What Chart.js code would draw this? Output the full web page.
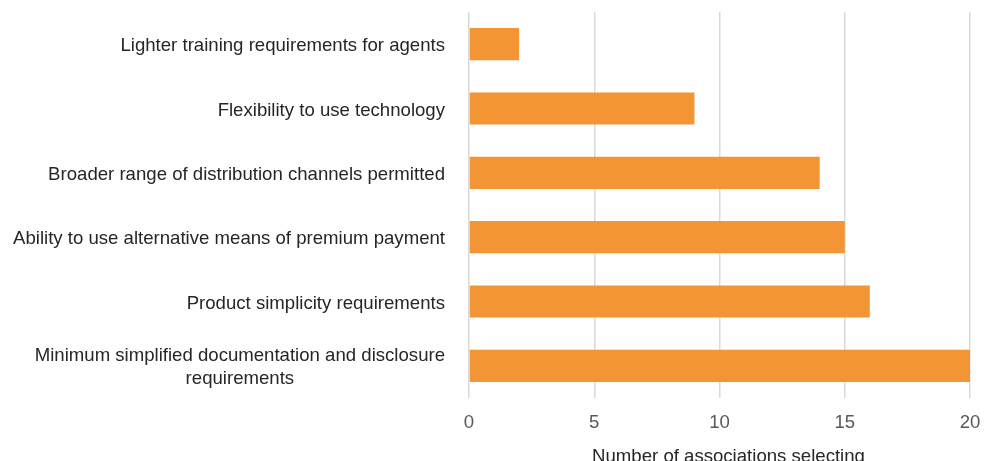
<!DOCTYPE html>
<html>
<head>
<meta charset="utf-8">
<script src="https://cdn.jsdelivr.net/npm/chart.js@4"></script>
<style>
  html, body { margin: 0; padding: 0; background: #ffffff; }
  #wrap { width: 996px; height: 461px; position: relative; }
</style>
</head>
<body>
<div id="wrap"><canvas id="chart"></canvas></div>
<script>
const categories = [
  "Lighter training requirements for agents",
  "Flexibility to use technology",
  "Broader range of distribution channels permitted",
  "Ability to use alternative means of premium payment",
  "Product simplicity requirements",
  ["Minimum simplified documentation and disclosure", "requirements"],
];
const associationCounts = [2, 9, 14, 15, 16, 20];
const axisTitle = "Number of associations selecting";

const FONT = "Liberation Sans, Arial, sans-serif";
const FONT_SIZE = 18.6;

const labelPlugin = {
  id: "categoryLabels",
  afterDraw(chart) {
    const ctx = chart.ctx;
    const yScale = chart.scales.y;
    const xScale = chart.scales.x;
    ctx.save();
    ctx.font = `${FONT_SIZE}px ${FONT}`;
    ctx.fillStyle = "#262626";
    ctx.textBaseline = "middle";
    ctx.textAlign = "center";
    const right = chart.chartArea.left - 24;
    const lineHeight = 23;

    categories.forEach((label, index) => {
      const lines = Array.isArray(label) ? label : [label];
      const blockWidth = Math.max(...lines.map((line) => ctx.measureText(line).width));
      const cx = right - blockWidth / 2;
      const cy = yScale.getPixelForTick(index) + 2;
      const top = cy - ((lines.length - 1) * lineHeight) / 2;
      lines.forEach((line, i) => ctx.fillText(line, cx, top + i * lineHeight));
    });

    ctx.textBaseline = "alphabetic";
    ctx.fillText(axisTitle, (xScale.left + xScale.right) / 2 + 9, chart.height + 0.5);
    ctx.restore();
  },
};

new Chart(document.getElementById("chart"), {
  type: "bar",
  data: {
    labels: categories,
    datasets: [
      {
        label: axisTitle,
        data: associationCounts,
        backgroundColor: "#F39435",
        borderWidth: 0,
        barPercentage: 0.5,
        categoryPercentage: 1,
      },
    ],
  },
  options: {
    indexAxis: "y",
    responsive: true,
    maintainAspectRatio: false,
    animation: false,
    layout: { padding: { top: 12, right: 26, left: 0, bottom: 0 } },
    plugins: {
      legend: { display: false },
      tooltip: { enabled: false },
    },
    scales: {
      x: {
        min: 0,
        max: 20,
        ticks: {
          stepSize: 5,
          padding: 14,
          color: "#595959",
          font: { family: FONT, size: FONT_SIZE },
        },
        grid: { color: "#d9d9d9", lineWidth: 1.5, drawTicks: false },
        border: { display: false },
        afterFit(scale) {
          scale.height = 63;
        },
      },
      y: {
        ticks: { display: false },
        grid: { display: false },
        border: { display: false },
        afterFit(scale) {
          scale.width = 469;
        },
      },
    },
  },
  plugins: [labelPlugin],
});
</script>
</body>
</html>
